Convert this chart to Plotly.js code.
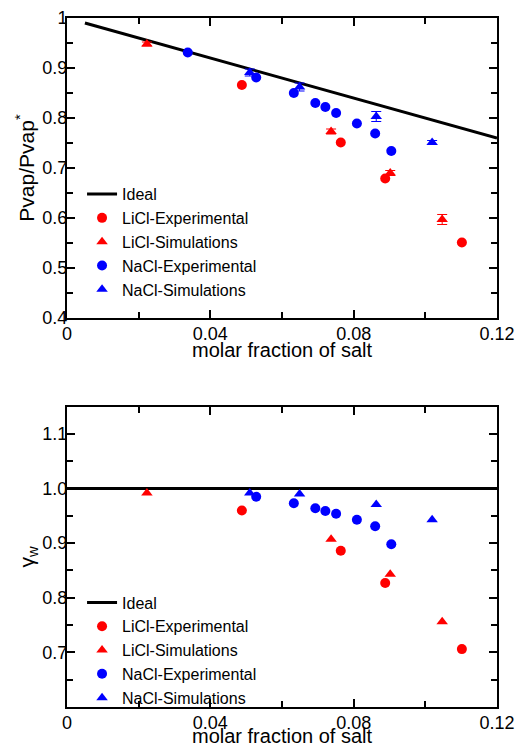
<!DOCTYPE html>
<html>
<head>
<meta charset="utf-8">
<script src="https://cdn.plot.ly/plotly-3.0.1.min.js"></script>
<style>html,body{margin:0;padding:0;background:#fff;}#chart{width:516px;height:746px;}</style>
</head>
<body>
<div id="chart"></div>
<script>
// ---- Data ----
// Top panel: Pvap/Pvap*
const idealTopX = [0.005, 0.12];
const idealTopY = [0.99, 0.76];

const liclExpX = [0.0488, 0.0764, 0.0888, 0.1102];
const liclExpTopY = [0.866, 0.751, 0.679, 0.551];

const liclSimX = [0.0223, 0.0737, 0.0902, 0.1047];
const liclSimTopY = [0.948, 0.773, 0.690, 0.597];
const liclSimTopErr = [0.004, 0.005, 0.005, 0.010];

const naclExpTopX = [0.0337, 0.0528, 0.0633, 0.0693, 0.0721, 0.0751, 0.0809, 0.0860, 0.0905];
const naclExpTopY = [0.931, 0.881, 0.850, 0.830, 0.822, 0.810, 0.789, 0.769, 0.734];

const naclSimX = [0.0510, 0.0649, 0.0863, 0.1019];
const naclSimTopY = [0.891, 0.862, 0.803, 0.751];
const naclSimTopErr = [0.007, 0.008, 0.010, 0.004];

// Bottom panel: gamma_w
const idealBotX = [0, 0.12];
const idealBotY = [1.0, 1.0];
const liclExpBotY = [0.960, 0.886, 0.827, 0.706];
const liclSimBotY = [0.992, 0.907, 0.843, 0.756];
const naclExpBotX = [0.0528, 0.0633, 0.0693, 0.0721, 0.0751, 0.0809, 0.0860, 0.0905];
const naclExpBotY = [0.985, 0.973, 0.964, 0.959, 0.954, 0.943, 0.931, 0.898];
const naclSimBotY = [0.992, 0.990, 0.971, 0.943];

const xTickVals = [0, 0.04, 0.08, 0.12];
const xTickText = ['0', '0.04', '0.08', '0.12'];
const yTopTickVals = [0.4, 0.5, 0.6, 0.7, 0.8, 0.9, 1];
const yTopTickText = ['0.4', '0.5', '0.6', '0.7', '0.8', '0.9', '1'];
const yBotTickVals = [0.7, 0.8, 0.9, 1.0, 1.1];
const yBotTickText = ['0.7', '0.8', '0.9', '1.0', '1.1'];
const names = ['Ideal', 'LiCl-Experimental', 'LiCl-Simulations', 'NaCl-Experimental', 'NaCl-Simulations'];
const xTitle = 'molar fraction of salt';

const RED = '#ff0000', BLUE = '#0000ff';
const FONT = 'Liberation Sans, Arial, Helvetica, sans-serif';

function tri(color, err) {
  const t = {mode: 'markers', type: 'scatter', marker: {symbol: 'triangle-up', size: 10, color: color}};
  if (err) t.error_y = {type: 'data', array: err, visible: true, color: color, thickness: 1, width: 5};
  return t;
}
function circ(color) {
  return {mode: 'markers', type: 'scatter', marker: {symbol: 'circle', size: 10, color: color}};
}

const traces = [
  {x: idealTopX, y: idealTopY, mode: 'lines', type: 'scatter', line: {color: '#000', width: 3}, name: names[0], xaxis: 'x', yaxis: 'y', legend: 'legend'},
  Object.assign(circ(RED), {x: liclExpX, y: liclExpTopY, name: names[1], xaxis: 'x', yaxis: 'y', legend: 'legend'}),
  Object.assign(tri(RED, liclSimTopErr), {x: liclSimX, y: liclSimTopY, name: names[2], xaxis: 'x', yaxis: 'y', legend: 'legend'}),
  Object.assign(circ(BLUE), {x: naclExpTopX, y: naclExpTopY, name: names[3], xaxis: 'x', yaxis: 'y', legend: 'legend'}),
  Object.assign(tri(BLUE, naclSimTopErr), {x: naclSimX, y: naclSimTopY, name: names[4], xaxis: 'x', yaxis: 'y', legend: 'legend'}),

  {x: idealBotX, y: idealBotY, mode: 'lines', type: 'scatter', line: {color: '#000', width: 3}, name: names[0], xaxis: 'x2', yaxis: 'y2', legend: 'legend2'},
  Object.assign(circ(RED), {x: liclExpX, y: liclExpBotY, name: names[1], xaxis: 'x2', yaxis: 'y2', legend: 'legend2'}),
  Object.assign(tri(RED), {x: liclSimX, y: liclSimBotY, name: names[2], xaxis: 'x2', yaxis: 'y2', legend: 'legend2'}),
  Object.assign(circ(BLUE), {x: naclExpBotX, y: naclExpBotY, name: names[3], xaxis: 'x2', yaxis: 'y2', legend: 'legend2'}),
  Object.assign(tri(BLUE), {x: naclSimX, y: naclSimBotY, name: names[4], xaxis: 'x2', yaxis: 'y2', legend: 'legend2'})
];

const axisCommon = {
  showline: true, mirror: 'ticks', linecolor: '#000', linewidth: 2,
  ticks: 'inside', ticklen: 8, tickwidth: 2, tickcolor: '#000',
  showgrid: false, zeroline: false,
  tickfont: {family: FONT, size: 18, color: '#000'},
  automargin: false
};
const minorX = {dtick: 0.02, tick0: 0, ticks: 'inside', ticklen: 6, tickwidth: 2, tickcolor: '#000'};
const minorY = {dtick: 0.05, tick0: 0, ticks: 'inside', ticklen: 6, tickwidth: 2, tickcolor: '#000'};

function xAxis(anchor) {
  return Object.assign({}, axisCommon, {
    range: [0, 0.12], tickmode: 'array', tickvals: xTickVals, ticktext: xTickText,
    minor: minorX, ticklabelstandoff: -2, anchor: anchor
  });
}

const legendCommon = {
  font: {family: FONT, size: 16, color: '#000'},
  bgcolor: 'rgba(0,0,0,0)', borderwidth: 0,
  xanchor: 'left', yanchor: 'top', itemwidth: 30, tracegroupgap: 0
};

const layout = {
  width: 516, height: 746,
  margin: {l: 67, r: 19, t: 18, b: 39},
  paper_bgcolor: '#fff', plot_bgcolor: '#fff',
  font: {family: FONT, color: '#000'},
  xaxis: xAxis('y'),
  yaxis: Object.assign({}, axisCommon, {
    domain: [0.5646, 1], range: [0.4, 1], tickmode: 'array', tickvals: yTopTickVals, ticktext: yTopTickText,
    minor: minorY, ticklabelstandoff: -6,
    title: {text: 'Pvap/Pvap<sup>*</sup>', font: {family: FONT, size: 21, color: '#000'}, standoff: 2},
    anchor: 'x'
  }),
  xaxis2: xAxis('y2'),
  yaxis2: Object.assign({}, axisCommon, {
    domain: [0, 0.4359], range: [0.6, 1.15], tickmode: 'array', tickvals: yBotTickVals, ticktext: yBotTickText,
    minor: minorY, ticklabelstandoff: -6,
    title: {text: 'γ<sub>w</sub>', font: {family: FONT, size: 21, color: '#000'}, standoff: 2},
    anchor: 'x2'
  }),
  annotations: [
    {text: xTitle, xref: 'paper', yref: 'paper', x: 0.5, y: 0.5181, xanchor: 'center', yanchor: 'middle', showarrow: false,
     font: {family: FONT, size: 20, color: '#000'}},
    {text: xTitle, xref: 'paper', yref: 'paper', x: 0.5, y: -0.042, xanchor: 'center', yanchor: 'middle', showarrow: false,
     font: {family: FONT, size: 20, color: '#000'}}
  ],
  legend: Object.assign({}, legendCommon, {x: 0.035, y: 0.769}),
  legend2: Object.assign({}, legendCommon, {x: 0.035, y: 0.1763}),
  showlegend: true
};

Plotly.newPlot('chart', traces, layout, {displayModeBar: false, staticPlot: true});
</script>
</body>
</html>
